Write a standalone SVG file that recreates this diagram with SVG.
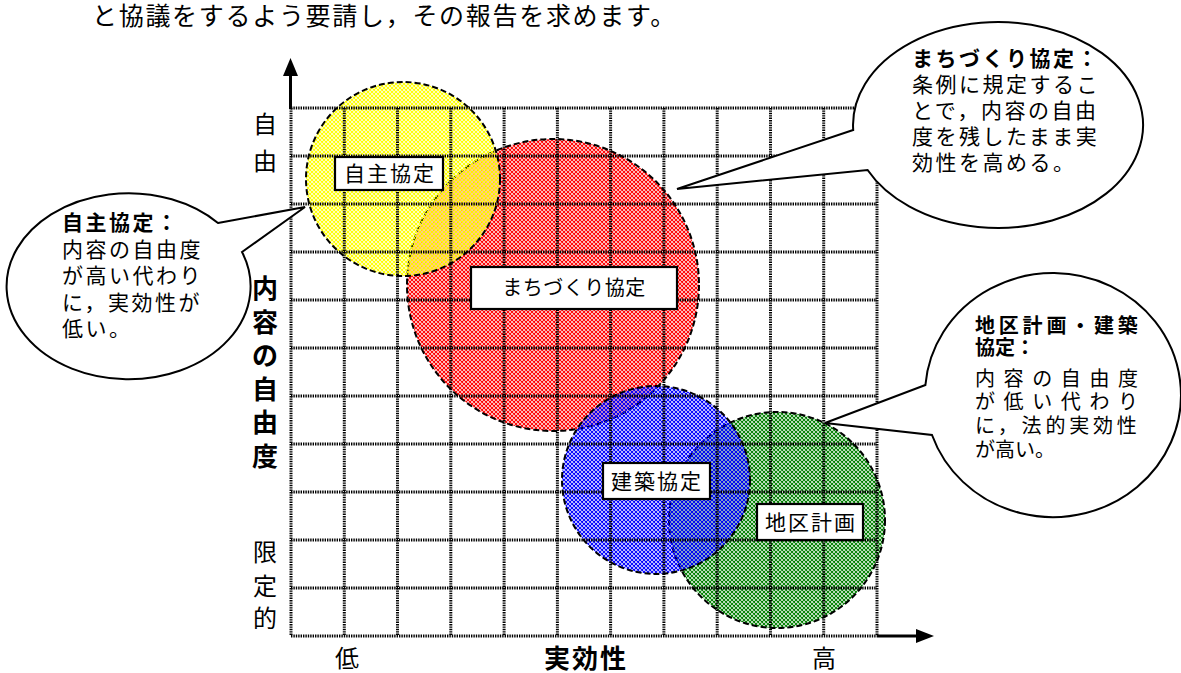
<svg xmlns="http://www.w3.org/2000/svg" width="1181" height="673" viewBox="0 0 1181 673">
<style>
text{font-family:"Noto Sans CJK JP","Noto Sans CJK SC",sans-serif;fill:#000}
.grid{fill:none;stroke:#000;stroke-width:3;stroke-dasharray:1.4 1}
.circ{stroke:#000;stroke-width:2;stroke-dasharray:6 3}
.box{fill:#fff;stroke:#000;stroke-width:2.2}
.lbl{font-size:21px;letter-spacing:2px;text-anchor:middle}
.call{fill:#fff;stroke:#000;stroke-width:2}
.ct{font-size:21px;letter-spacing:2.5px}
.cr{font-size:20px}
.b{font-weight:bold}
.ax{font-size:24px;text-anchor:middle}
.axb{font-size:26px;font-weight:bold;text-anchor:middle}
.hatch{stroke-width:1.1;fill:none}
</style>
<defs>
<pattern id="pR" width="4" height="4" patternUnits="userSpaceOnUse"><path class="hatch" d="M0 0L4 4M4 0L0 4M-1 1L1 -1M3 5L5 3M-1 3L1 5M3 -1L5 1" stroke="#ff0000"/></pattern>
<pattern id="pY" width="4" height="4" patternUnits="userSpaceOnUse"><path class="hatch" d="M0 0L4 4M4 0L0 4M-1 1L1 -1M3 5L5 3M-1 3L1 5M3 -1L5 1" stroke="#ffff00"/></pattern>
<pattern id="pG" width="4" height="4" patternUnits="userSpaceOnUse"><path class="hatch" d="M0 0L4 4M4 0L0 4M-1 1L1 -1M3 5L5 3M-1 3L1 5M3 -1L5 1" stroke="#008000"/></pattern>
<pattern id="pB" width="4" height="4" patternUnits="userSpaceOnUse"><path class="hatch" d="M0 0L4 4M4 0L0 4M-1 1L1 -1M3 5L5 3M-1 3L1 5M3 -1L5 1" stroke="#0000ff"/></pattern>
</defs>
<rect width="1181" height="673" fill="#fff"/>
<text x="92" y="25" style="font-size:25px;letter-spacing:1.7px">と協議をするよう要請し，その報告を求めます。</text>
<g id="circle-machizukuri"><circle class="circ" cx="553" cy="285" r="146" fill="url(#pR)"/></g>
<g id="circle-jishu"><circle class="circ" cx="403" cy="179" r="97" fill="url(#pY)"/></g>
<g id="circle-chiku"><circle class="circ" cx="777" cy="520" r="108" fill="url(#pG)"/></g>
<g id="circle-kenchiku"><circle class="circ" cx="656" cy="480" r="94" fill="url(#pB)"/></g>
<g id="grid">
<path class="grid" d="M291 108V636M344.3 108V636M397.5 108V636M450.8 108V636M504.1 108V636M557.4 108V636M610.6 108V636M663.9 108V636M717.2 108V636M770.5 108V636M823.7 108V636M877 108V636"/>
<path class="grid" d="M291 108H877M291 156H877M291 204H877M291 252H877M291 300H877M291 348H877M291 396H877M291 444H877M291 492H877M291 540H877M291 588H877M291 636H877"/>
</g>
<g id="connectors">
<path d="M290.5 109V74" stroke="#000" stroke-width="3"/>
<path d="M290.5 58L283 76H298Z" fill="#000"/>
<path d="M877 636H918" stroke="#000" stroke-width="3"/>
<path d="M934 636L916 629V643Z" fill="#000"/>
</g>
<g id="label-jishu"><rect class="box" x="335" y="157" width="108" height="33"/><text class="lbl" x="390" y="181">自主協定</text></g>
<g id="label-machizukuri"><rect class="box" x="471" y="267" width="206" height="42"/><text class="lbl" x="574" y="295" style="font-size:20px;letter-spacing:0.5px">まちづくり協定</text></g>
<g id="label-kenchiku"><rect class="box" x="603" y="463" width="107" height="36"/><text class="lbl" x="657" y="489">建築協定</text></g>
<g id="label-chiku"><rect class="box" x="757" y="504" width="106" height="36"/><text class="lbl" x="811" y="530">地区計画</text></g>
<g id="callout-jishu">
<path class="call" d="M218 223L305 207L242 252A122 93 0 1 1 218 223Z"/>
<text class="ct b" x="62" y="230">自主協定：</text>
<text class="ct" x="62" y="256.5">内容の自由度</text>
<text class="ct" x="62" y="283">が高い代わり</text>
<text class="ct" x="62" y="309.5">に，実効性が</text>
<text class="ct" x="62" y="336">低い。</text>
</g>
<g id="callout-machizukuri">
<path class="call" d="M853.2 130L677 189L867.6 170A145 103 0 1 0 853.2 130Z"/>
<text class="ct b" x="912" y="66">まちづくり協定：</text>
<text class="ct" x="912" y="92">条例に規定するこ</text>
<text class="ct" x="912" y="118">とで，内容の自由</text>
<text class="ct" x="912" y="144">度を残したまま実</text>
<text class="ct" x="912" y="170">効性を高める。</text>
</g>
<g id="callout-chiku">
<path class="call" d="M925.4 385L825 423L932 435A128 122 0 1 0 925.4 385Z"/>
<text class="cr b" x="975" y="333" style="letter-spacing:3.8px">地区計画・建築</text>
<text class="cr b" x="975" y="355">協定：</text>
<text class="cr" x="975" y="386" style="letter-spacing:8.6px">内容の自由度</text>
<text class="cr" x="975" y="409" style="letter-spacing:8.6px">が低い代わり</text>
<text class="cr" x="975" y="433" style="letter-spacing:3.8px">に，法的実効性</text>
<text class="cr" x="975" y="457">が高い。</text>
</g>
<g id="axis-labels">
<text class="ax" x="265" y="132.5">自</text>
<text class="ax" x="265" y="170">由</text>
<text class="axb" x="265" y="298">内</text>
<text class="axb" x="265" y="331.6">容</text>
<text class="axb" x="265" y="365.2">の</text>
<text class="axb" x="265" y="398.8">自</text>
<text class="axb" x="265" y="432.4">由</text>
<text class="axb" x="265" y="466">度</text>
<text class="ax" x="265" y="561">限</text>
<text class="ax" x="265" y="595">定</text>
<text class="ax" x="265" y="627">的</text>
<text class="ax" x="347" y="667">低</text>
<text class="axb" x="586" y="668" style="letter-spacing:2px">実効性</text>
<text class="ax" x="824" y="667">高</text>
</g>
</svg>
